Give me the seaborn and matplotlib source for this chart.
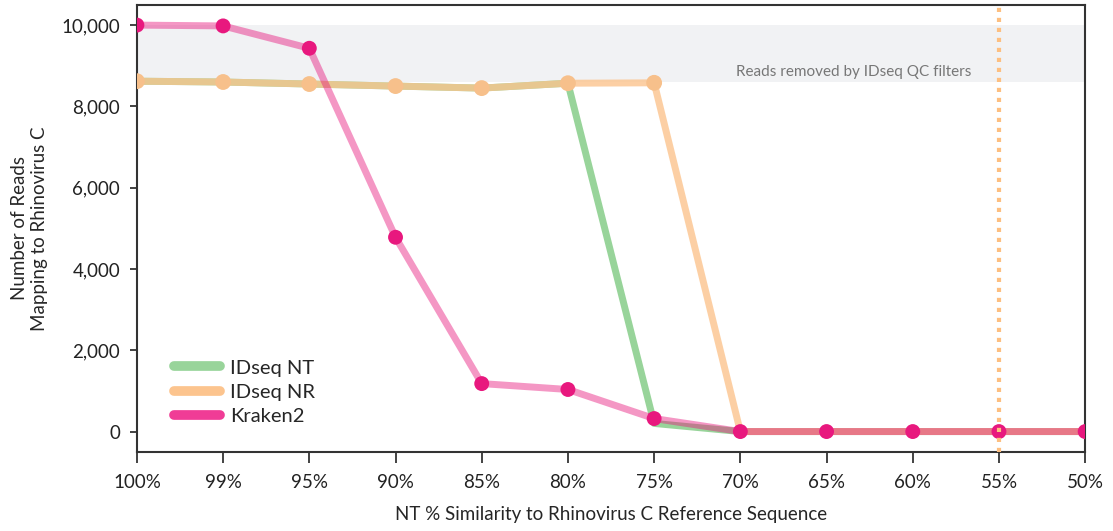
import numpy as np
import pandas as pd
import matplotlib
matplotlib.use("Agg")
import matplotlib.pyplot as plt
from matplotlib.lines import Line2D
import seaborn as sns

# %% data
similarity = ["100%", "99%", "95%", "90%", "85%", "80%", "75%", "70%", "65%", "60%", "55%", "50%"]
kraken2 = [10000, 9980, 9430, 4780, 1180, 1035, 320, 0, 0, 0, 0, 0]
idseq_nr = [8620, 8600, 8550, 8500, 8450, 8570, 8580, 0, 0, 0, 0, 0]
idseq_nt = [8620, 8600, 8550, 8500, 8450, 8570, 200, 0, 0, 0, 0, 0]
qc_low, qc_high = 8600, 10000

df = pd.DataFrame({"pos": np.arange(len(similarity)),
                   "label": similarity,
                   "Kraken2": kraken2,
                   "IDseq NR": idseq_nr,
                   "IDseq NT": idseq_nt})

# %% style
sns.set_style("ticks")
plt.rcParams["font.family"] = ["Lato", "DejaVu Sans"]

green = "#98d49a"
orange = "#fcc48e"
pink = "#e8187e"

fig = plt.figure(figsize=(11.13, 5.31), dpi=100)
ax = fig.add_axes([0.123, 0.149, 0.852, 0.842])

ax.axhspan(qc_low, qc_high, color="#f1f2f4", zorder=0, lw=0)
ax.text(8.32, 8840, "Reads removed by IDseq QC filters", color="#777777",
        fontsize=11, ha="center", va="center")

sns.lineplot(data=df, x="pos", y="IDseq NT", color=green, lw=5, ax=ax, zorder=2)
sns.lineplot(data=df, x="pos", y="IDseq NR", color=orange, lw=5, alpha=0.8, ax=ax, zorder=3)
nr_pts = df[df["IDseq NR"] > 0]
sns.scatterplot(data=nr_pts, x="pos", y="IDseq NR", color="#f7c08b", s=130,
                edgecolor="none", ax=ax, zorder=4)
sns.lineplot(data=df, x="pos", y="Kraken2", color=pink, lw=5, alpha=0.45, ax=ax, zorder=5)
sns.scatterplot(data=df, x="pos", y="Kraken2", color=pink, s=115,
                edgecolor="none", ax=ax, zorder=6)

ax.axvline(10, color="#fdbf80", lw=3, ls=(0, (1, 1.4)), zorder=7)

ax.set_xlim(0, len(similarity) - 1)
ax.set_ylim(-500, 10500)
ax.set_xticks(df["pos"])
ax.set_xticklabels(similarity)
ax.set_yticks([0, 2000, 4000, 6000, 8000, 10000])
ax.set_yticklabels(["0", "2,000", "4,000", "6,000", "8,000", "10,000"])
ax.tick_params(labelsize=13.5, width=1.2, colors="#222222")
ax.tick_params(axis="x", length=8, pad=8)
ax.tick_params(axis="y", length=5, pad=7)
for s in ax.spines.values():
    s.set_linewidth(1.5)
    s.set_color("#333333")

ax.set_xlabel("NT % Similarity to Rhinovirus C Reference Sequence", fontsize=13.5, labelpad=11)
ax.set_ylabel("Number of Reads\nMapping to Rhinovirus C", fontsize=13.5, labelpad=10)

handles = [Line2D([], [], color=green, lw=7),
           Line2D([], [], color=orange, lw=7),
           Line2D([], [], color="#f03c96", lw=7)]
ax.legend(handles, ["IDseq NT", "IDseq NR", "Kraken2"], loc="lower left",
          bbox_to_anchor=(0.02, 0.02), frameon=False, fontsize=14.5,
          handlelength=2.3, handletextpad=0.5, labelspacing=0.35)

fig.savefig("out.png", dpi=100)
